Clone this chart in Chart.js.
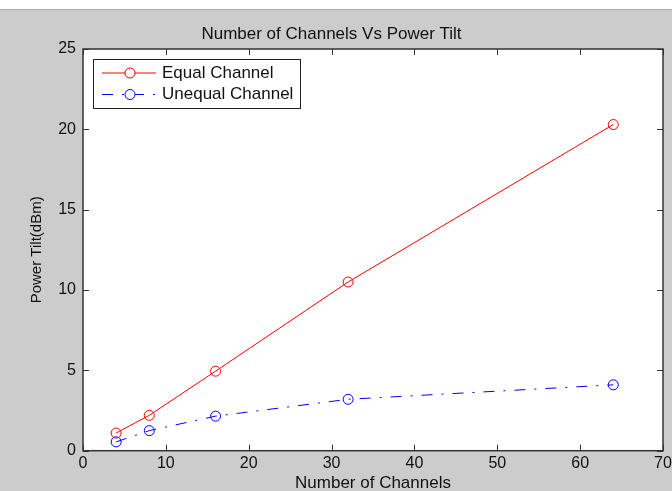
<!DOCTYPE html>
<html>
<head>
<meta charset="utf-8">
<script src="https://cdn.jsdelivr.net/npm/chart.js@4"></script>
<style>
  html, body { margin: 0; padding: 0; background: #fff; }
  #wrap { position: absolute; left: 0; top: 9px; width: 672px; height: 482px; background: #cccccc; border-top: 1px solid #aaaaaa; box-sizing: border-box; }
  #wrap canvas { position: absolute; left: 0; top: -1px; }
</style>
</head>
<body>
<div id="wrap"><canvas id="tiltChart" width="672" height="482"></canvas></div>
<script>
const channels = [4, 8, 16, 32, 64];
const equalTilt = [1.1, 2.2, 4.95, 10.5, 20.3];
const unequalTilt = [0.55, 1.25, 2.15, 3.2, 4.1];
const xTicks = [0, 10, 20, 30, 40, 50, 60, 70];
const yTicks = [0, 5, 10, 15, 20, 25];

const fontFamily = "'Liberation Sans', Arial, sans-serif";

// white plot area
const areaPlugin = {
    id: 'areaPlugin',
    beforeDatasetsDraw(chart) {
        const a = chart.chartArea;
        chart.ctx.save();
        chart.ctx.fillStyle = '#fff';
        chart.ctx.fillRect(a.left, a.top, a.right - a.left, a.bottom - a.top);
        chart.ctx.restore();
    }
};

// box round the plot with inward ticks, matlab style
const boxPlugin = {
    id: 'boxPlugin',
    afterDatasetsDraw(chart) {
        const ctx = chart.ctx;
        const a = chart.chartArea;
        const xs = chart.scales.x;
        const ys = chart.scales.y;
        const tl = 6;
        ctx.save();
        ctx.strokeStyle = '#333';
        ctx.lineWidth = 1;
        ctx.beginPath();
        xTicks.forEach(v => {
            const px = Math.round(xs.getPixelForValue(v)) + 0.5;
            ctx.moveTo(px, a.bottom); ctx.lineTo(px, a.bottom - tl);
            ctx.moveTo(px, a.top); ctx.lineTo(px, a.top + tl);
        });
        yTicks.forEach(v => {
            const py = Math.round(ys.getPixelForValue(v)) + 0.5;
            ctx.moveTo(a.left, py); ctx.lineTo(a.left + tl, py);
            ctx.moveTo(a.right, py); ctx.lineTo(a.right - tl, py);
        });
        ctx.stroke();
        ctx.lineWidth = 1.5;
        ctx.strokeRect(a.left, a.top, a.right - a.left, a.bottom - a.top);
        ctx.restore();
    }
};

// legend box in the top left corner
const legendPlugin = {
    id: 'legendPlugin',
    afterDraw(chart) {
        const ctx = chart.ctx;
        const a = chart.chartArea;
        const bx = a.left + 10, by = a.top + 10, bw = 207, bh = 49;
        ctx.save();
        ctx.fillStyle = '#fff';
        ctx.fillRect(bx, by, bw, bh);
        ctx.strokeStyle = '#222';
        ctx.lineWidth = 1;
        ctx.strokeRect(bx + 0.5, by + 0.5, bw, bh);
        chart.data.datasets.forEach((ds, i) => {
            const y = by + 14 + i * 21.5;
            ctx.strokeStyle = ds.borderColor;
            ctx.lineWidth = 1;
            ctx.setLineDash(ds.borderDash || []);
            ctx.beginPath();
            ctx.moveTo(bx + 9, y);
            ctx.lineTo(bx + 63, y);
            ctx.stroke();
            ctx.setLineDash([]);
            ctx.fillStyle = '#fff';
            ctx.beginPath();
            ctx.arc(bx + 37, y, 5, 0, Math.PI * 2);
            ctx.fill();
            ctx.stroke();
            ctx.fillStyle = '#111';
            ctx.font = '17px ' + fontFamily;
            ctx.textBaseline = 'middle';
            ctx.textAlign = 'left';
            ctx.fillText(ds.label, bx + 69, y);
        });
        ctx.restore();
    }
};

const ctx = document.getElementById('tiltChart').getContext('2d');
new Chart(ctx, {
    type: 'line',
    data: {
        datasets: [
            {
                label: 'Equal Channel',
                data: channels.map((c, i) => ({x: c, y: equalTilt[i]})),
                borderColor: 'rgb(255, 0, 0)',
                backgroundColor: 'transparent',
                borderWidth: 1,
                pointRadius: 5,
                pointBorderWidth: 1,
                pointBackgroundColor: 'transparent',
                pointBorderColor: 'rgb(255, 0, 0)',
                fill: false,
                tension: 0
            },
            {
                label: 'Unequal Channel',
                data: channels.map((c, i) => ({x: c, y: unequalTilt[i]})),
                borderColor: 'rgb(0, 0, 255)',
                backgroundColor: 'transparent',
                borderWidth: 1,
                borderDash: [11, 9, 2, 9],
                pointRadius: 5,
                pointBorderWidth: 1,
                pointBackgroundColor: 'transparent',
                pointBorderColor: 'rgb(0, 0, 255)',
                fill: false,
                tension: 0
            }
        ]
    },
    options: {
        responsive: false,
        animation: false,
        layout: { padding: { left: 0, right: 9, top: 0, bottom: 0 } },
        plugins: {
            legend: { display: false },
            tooltip: { enabled: false },
            title: {
                display: true,
                text: 'Number of Channels Vs Power Tilt',
                color: '#111',
                font: { family: fontFamily, size: 17, weight: 'normal', lineHeight: 1.2 },
                padding: { top: 14.8, bottom: 4.8 }
            }
        },
        scales: {
            x: {
                type: 'linear',
                min: 0,
                max: 70,
                afterFit: s => { s.height = 40.3; s.paddingLeft = 0; s.paddingRight = 0; },
                grid: { display: false, drawTicks: false },
                border: { display: false },
                ticks: {
                    stepSize: 10,
                    padding: 3,
                    color: '#111',
                    font: { family: fontFamily, size: 16 }
                },
                title: {
                    display: true,
                    text: 'Number of Channels',
                    color: '#111',
                    font: { family: fontFamily, size: 17, lineHeight: 1 },
                    padding: { top: 0, bottom: -1 }
                }
            },
            y: {
                type: 'linear',
                min: 0,
                max: 25,
                afterFit: s => { s.width = 83; },
                grid: { display: false, drawTicks: false },
                border: { display: false },
                ticks: {
                    stepSize: 5,
                    padding: 7,
                    color: '#111',
                    font: { family: fontFamily, size: 16 }
                },
                title: {
                    display: true,
                    text: 'Power Tilt(dBm)',
                    color: '#111',
                    font: { family: fontFamily, size: 15 },
                    padding: { top: 28, bottom: 0 }
                }
            }
        }
    },
    plugins: [areaPlugin, boxPlugin, legendPlugin]
});
</script>
</body>
</html>
